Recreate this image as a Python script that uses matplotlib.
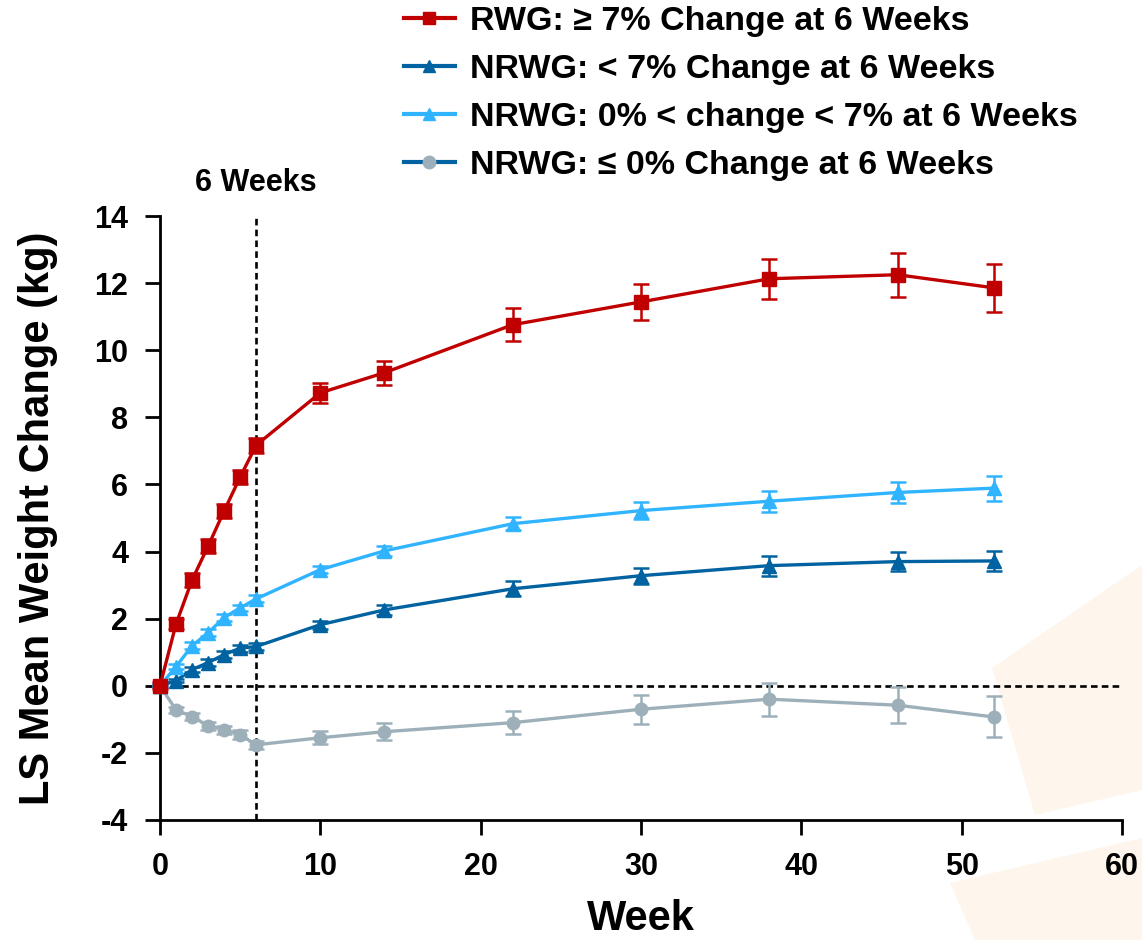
import numpy as np
import matplotlib.pyplot as plt
from matplotlib.lines import Line2D
from matplotlib.patches import Polygon

plt.rcParams['font.family'] = ['Liberation Sans', 'DejaVu Sans']
plt.rcParams['font.weight'] = 'bold'
plt.rcParams['axes.unicode_minus'] = False

# data
weeks = [0, 1, 2, 3, 4, 5, 6, 10, 14, 22, 30, 38, 46, 52]

rwg = [0.0, 1.84, 3.15, 4.16, 5.21, 6.22, 7.17, 8.73, 9.33, 10.76, 11.44, 12.13, 12.25, 11.86]
rwg_err = [0.1, 0.15, 0.2, 0.2, 0.2, 0.2, 0.22, 0.3, 0.36, 0.5, 0.54, 0.6, 0.66, 0.72]

nrwg_lt7 = [0.0, 0.15, 0.48, 0.69, 0.93, 1.12, 1.17, 1.82, 2.26, 2.89, 3.28, 3.58, 3.7, 3.72]
nrwg_lt7_err = [0.05, 0.05, 0.08, 0.1, 0.1, 0.1, 0.1, 0.12, 0.15, 0.22, 0.24, 0.3, 0.29, 0.31]

nrwg_0_7 = [0.0, 0.57, 1.19, 1.58, 2.03, 2.32, 2.59, 3.46, 4.02, 4.83, 5.22, 5.5, 5.76, 5.89]
nrwg_0_7_err = [0.05, 0.08, 0.1, 0.1, 0.1, 0.1, 0.1, 0.1, 0.15, 0.2, 0.25, 0.31, 0.3, 0.37]

nrwg_le0 = [0.0, -0.72, -0.92, -1.19, -1.31, -1.46, -1.76, -1.55, -1.37, -1.1, -0.7, -0.4, -0.58, -0.93]
nrwg_le0_err = [0.05, 0.08, 0.1, 0.12, 0.12, 0.14, 0.12, 0.19, 0.25, 0.34, 0.43, 0.49, 0.53, 0.61]

labels = ['RWG: \u2265 7% Change at 6 Weeks',
          'NRWG: < 7% Change at 6 Weeks',
          'NRWG: 0% < change < 7% at 6 Weeks',
          'NRWG: \u2264 0% Change at 6 Weeks']

red = '#C00000'
dblue = '#0062A0'
lblue = '#30B4FF'
grey = '#9DB0BA'

fig = plt.figure(figsize=(11.42, 9.4), dpi=100)

# faint background shapes, behind everything
fig.patches.append(Polygon([[992/1142, 1-668/940], [1142/1142, 1-565/940], [1142/1142, 1-790/940], [1035/1142, 1-815/940]],
                           closed=True, transform=fig.transFigure, facecolor='#FEF6EC', edgecolor='none', zorder=-5))
fig.patches.append(Polygon([[950/1142, 1-883/940], [1142/1142, 1-838/940], [1142/1142, 0], [975/1142, 0]],
                           closed=True, transform=fig.transFigure, facecolor='#FEF6EC', edgecolor='none', zorder=-5))

ax = fig.add_axes([0.1401, 0.1277, 0.8424, 0.6425])
ax.patch.set_alpha(0)

ax.axhline(0, color='black', ls=(0, (2.5, 1.6)), lw=1.9, zorder=1)
ax.axvline(6, color='black', ls=(0, (2.5, 1.6)), lw=1.9, zorder=1)

series = [
    (nrwg_le0, nrwg_le0_err, grey, 'o', 9),
    (nrwg_lt7, nrwg_lt7_err, dblue, '^', 10),
    (nrwg_0_7, nrwg_0_7_err, lblue, '^', 10),
    (rwg, rwg_err, red, 's', 10),
]
for y, e, c, m, ms in series:
    ax.errorbar(weeks, y, yerr=e, color=c, marker=m, ms=ms, lw=2.4,
                elinewidth=1.8, capsize=6, capthick=1.8, zorder=3, clip_on=False)

ax.set_xlim(0, 60)
ax.set_ylim(-4, 14)
ax.set_xticks(range(0, 61, 10))
ax.set_yticks(range(-4, 15, 2))
ax.spines['top'].set_visible(False)
ax.spines['right'].set_visible(False)
ax.spines['left'].set_linewidth(2)
ax.spines['bottom'].set_linewidth(2)
ax.tick_params(width=2, length=11, labelsize=22)
ax.tick_params(axis='x', pad=12)
ax.tick_params(axis='y', pad=12)
for t in ax.get_xticklabels() + ax.get_yticklabels():
    t.set_fontweight('bold')

ax.set_xlabel('Week', fontsize=30, fontweight='bold')
ax.xaxis.set_label_coords(0.5, -0.131)
ax.set_ylabel('LS Mean Weight Change (kg)', fontsize=30, fontweight='bold')
ax.yaxis.set_label_coords(-0.106, 0.5)

ax.text(6, 14.55, '6 Weeks', ha='center', va='bottom', fontsize=22, fontweight='bold')

handles = [
    Line2D([], [], color=red, marker='s', ms=9, lw=3),
    Line2D([], [], color=dblue, marker='^', ms=9, lw=3),
    Line2D([], [], color=lblue, marker='^', ms=9, lw=3),
    Line2D([], [], color=dblue, marker='o', ms=9, mfc=grey, mec=grey, lw=3),
]
fig.legend(handles, labels, loc='upper left', bbox_to_anchor=(390/1142, 1.008),
           frameon=False, prop={'size': 24.5, 'weight': 'bold'},
           handlelength=1.5, handletextpad=0.45, labelspacing=0.5, borderaxespad=0)

fig.savefig('out.png', dpi=100)
